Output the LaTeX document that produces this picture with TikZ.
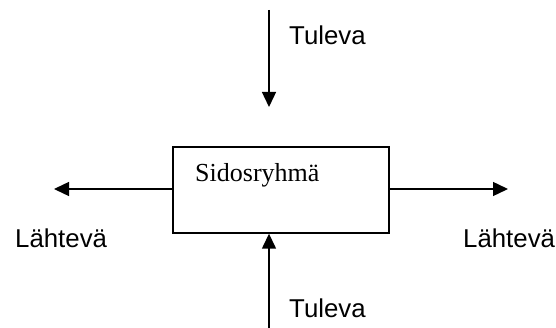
\documentclass[tikz,border=0pt]{standalone}
\usepackage{fontspec}
\setmainfont{Liberation Serif}
\newfontfamily\labelfont{Liberation Sans}
\usetikzlibrary{arrows.meta}
\begin{document}
\begin{tikzpicture}[x=1pt,y=-1pt,
  flow/.style={line width=1.4pt,-{Triangle[length=15pt,width=14pt]}},
  tag/.style={font=\labelfont\fontsize{25.8}{30}\selectfont,inner sep=0pt,anchor=base west},
  group/.style={draw,line width=1.4pt,minimum width=216pt,minimum height=86pt,inner sep=0pt}]
\useasboundingbox (0,0) rectangle (556,328);
\node[group] (box) at (281,190) {};
\node[font=\fontsize{26}{30}\selectfont,inner sep=0pt,anchor=base west] (name) at (195,182) {Sidosryhmä};
\coordinate (topstart) at (269,10);
\coordinate (bottomstart) at (269,328);
\coordinate (lefttip) at (54,189);
\coordinate (righttip) at (508,189);
\draw[flow] (topstart) -- (269,107);
\draw[flow] (bottomstart) -- (box.south -| bottomstart);
\draw[flow] (box.west |- lefttip) -- (lefttip);
\draw[flow] (box.east |- righttip) -- (righttip);
\node[tag] (intop) at (289,45) {Tuleva};
\node[tag] (inbottom) at (289,317) {Tuleva};
\node[tag] (outleft) at (15,248) {Lähtevä};
\node[tag] (outright) at (463,248) {Lähtevä};
\end{tikzpicture}
\end{document}
